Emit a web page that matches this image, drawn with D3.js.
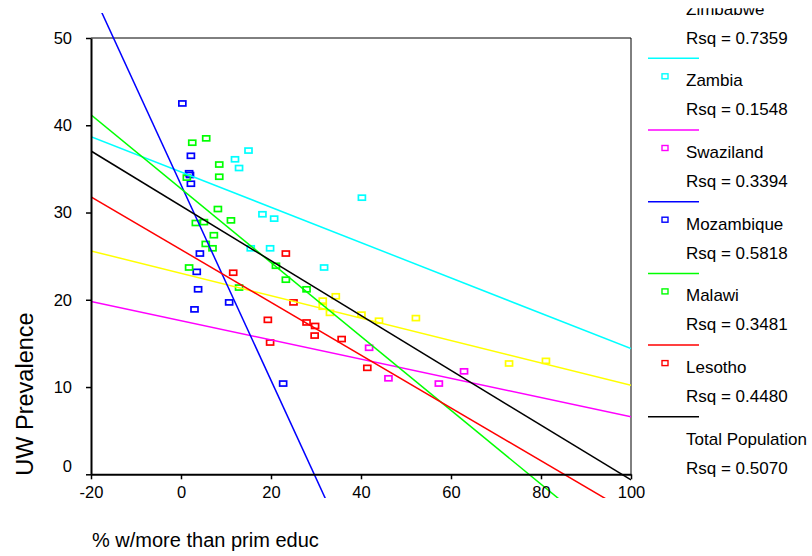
<!DOCTYPE html>
<html>
<head>
<meta charset="utf-8">
<script src="https://cdn.jsdelivr.net/npm/d3@7"></script>
<style>
  body { margin: 0; background: #fff; }
  svg { display: block; font-family: "Liberation Sans", Arial, sans-serif; }
</style>
</head>
<body>
<svg></svg>
<script>
const width = 812;
const height = 556;

// legend order, top to bottom
const countries = ["Zimbabwe", "Zambia", "Swaziland", "Mozambique", "Malawi", "Lesotho"];
const colors = ["#ffff00", "#00ffff", "#ff00ff", "#0000ff", "#00ff00", "#ff0000"];
const rsqLabels = ["0.7359", "0.1548", "0.3394", "0.5818", "0.3481", "0.4480", "0.5070"];

const xTicks = [-20, 0, 20, 40, 60, 80, 100];
const yTicks = [0, 10, 20, 30, 40, 50];

// [% w/more than prim educ, UW prevalence]
const zimbabwe = [[31.5, 19.9], [34.4, 20.4], [31.5, 19.2], [33.1, 18.5], [40.1, 18.3],
                  [44.0, 17.6], [52.2, 17.9], [72.9, 12.7], [81.1, 13.0]];
const zambia = [[15.0, 37.1], [12.0, 36.1], [12.9, 35.1], [18.1, 29.8], [20.7, 29.3],
                [15.5, 25.9], [19.8, 25.9], [40.2, 31.7], [31.8, 23.7]];
const swaziland = [[41.8, 14.5], [46.1, 11.0], [57.3, 10.4], [62.9, 11.8]];
const mozambique = [[0.3, 42.5], [2.2, 36.5], [1.8, 34.5], [2.0, 34.3], [2.2, 33.3], [4.2, 25.3],
                    [3.5, 23.2], [3.8, 21.2], [10.7, 19.7], [3.0, 18.9], [22.7, 10.4]];
const malawi = [[2.5, 38.0], [5.6, 38.5], [8.5, 35.5], [8.5, 34.1], [1.3, 34.0], [8.2, 30.4],
                [11.1, 29.1], [3.3, 28.8], [5.1, 28.9], [7.3, 27.4], [5.5, 26.4], [7.0, 25.9],
                [1.8, 23.7], [12.9, 21.4], [21.1, 23.9], [23.3, 22.3], [27.9, 21.2]];
const lesotho = [[23.3, 25.3], [11.6, 23.1], [25.0, 19.7], [19.3, 17.7], [27.9, 17.4],
                 [29.8, 17.0], [29.7, 15.9], [19.8, 15.1], [35.7, 15.5], [41.4, 12.2]];

// fitted lines, value at x = -20 and at x = 100 (last one = total population)
const fitStart = [25.6, 38.7, 19.8, 55.6, 41.2, 31.8, 37.05];
const fitEnd = [10.2, 14.4, 6.6, -78.9, -9.6, -4.5, -0.65];

const groups = [zimbabwe, zambia, swaziland, mozambique, malawi, lesotho];

const svg = d3.select("svg").attr("width", width).attr("height", height);

const x = d3.scaleLinear().domain([-20, 100]).range([91, 631]);
const y = d3.scaleLinear().domain([0, 50]).range([474.3, 38]);

svg.append("clipPath").attr("id", "fitclip")
    .append("rect").attr("x", x(-20)).attr("y", 13).attr("width", x(100) - x(-20)).attr("height", 485);

svg.append("clipPath").attr("id", "legclip")
    .append("rect").attr("x", 640).attr("y", 8.2).attr("width", 172).attr("height", 550);

// frame on top and right
svg.append("path")
    .attr("d", `M${x(-20)},${y(50)}H${x(100)}V${y(0)}`)
    .attr("fill", "none").attr("stroke", "#000").attr("stroke-width", 1);

// points
groups.forEach((pts, i) => {
    svg.append("g").selectAll("rect")
        .data(pts)
        .enter()
        .append("rect")
        .attr("x", d => x(d[0]) - 3.5)
        .attr("y", d => y(d[1]) - 2.5)
        .attr("width", 7)
        .attr("height", 5)
        .attr("fill", "none")
        .attr("stroke", colors[i])
        .attr("stroke-width", 1.7);
});

// fit lines
const lineColors = colors.concat(["#000000"]);
svg.append("g").attr("clip-path", "url(#fitclip)")
    .selectAll("line")
    .data(fitStart)
    .enter()
    .append("line")
    .attr("x1", x(-20)).attr("y1", d => y(d))
    .attr("x2", x(100)).attr("y2", (d, i) => y(fitEnd[i]))
    .attr("stroke", (d, i) => lineColors[i])
    .attr("stroke-width", 1.5);

// axes
const xAxis = svg.append("g")
    .attr("transform", `translate(0,${y(0)})`)
    .call(d3.axisBottom(x).tickValues(xTicks).tickFormat(d => String(d))
        .tickSize(5).tickSizeOuter(0).tickPadding(7));
const yAxis = svg.append("g")
    .attr("transform", `translate(${x(-20)},0)`)
    .call(d3.axisLeft(y).tickValues(yTicks).tickFormat(d => String(d))
        .tickSize(5).tickSizeOuter(0).tickPadding(14));

[xAxis, yAxis].forEach(a => {
    a.select(".domain").attr("stroke", "#000").attr("stroke-width", 2);
    a.selectAll(".tick line").attr("stroke", "#000").attr("stroke-width", 1.5);
    a.selectAll("text").attr("fill", "#000").style("font-size", "16.5px").style("font-family", "Liberation Sans, Arial, sans-serif");
});
yAxis.selectAll(".tick").filter(d => d === 0).select("text").attr("dy", "-0.15em");

svg.append("text")
    .attr("x", 92).attr("y", 547)
    .style("font-size", "20px")
    .text("% w/more than prim educ");

svg.append("text")
    .attr("transform", `translate(33,394) rotate(-90)`)
    .attr("text-anchor", "middle")
    .style("font-size", "23.5px")
    .text("UW Prevalence");

// legend
const legend = svg.append("g").attr("clip-path", "url(#legclip)");
const legNames = countries.concat(["Total Population"]);
legNames.forEach((name, i) => {
    const ly = -13.4 + 71.7 * i;
    legend.append("line")
        .attr("x1", 648).attr("x2", 699).attr("y1", ly).attr("y2", ly)
        .attr("stroke", lineColors[i]).attr("stroke-width", 1.5);
    if (i < countries.length) {
        legend.append("rect")
            .attr("x", 662).attr("y", ly + 15.5).attr("width", 6).attr("height", 5)
            .attr("fill", "none").attr("stroke", colors[i]).attr("stroke-width", 1.4);
    }
    legend.append("text").attr("x", 686).attr("y", ly + 28)
        .style("font-size", "17px").text(name);
    legend.append("text").attr("x", 686).attr("y", ly + 57)
        .style("font-size", "17px").text(`Rsq = ${rsqLabels[i]}`);
});
</script>
</body>
</html>
